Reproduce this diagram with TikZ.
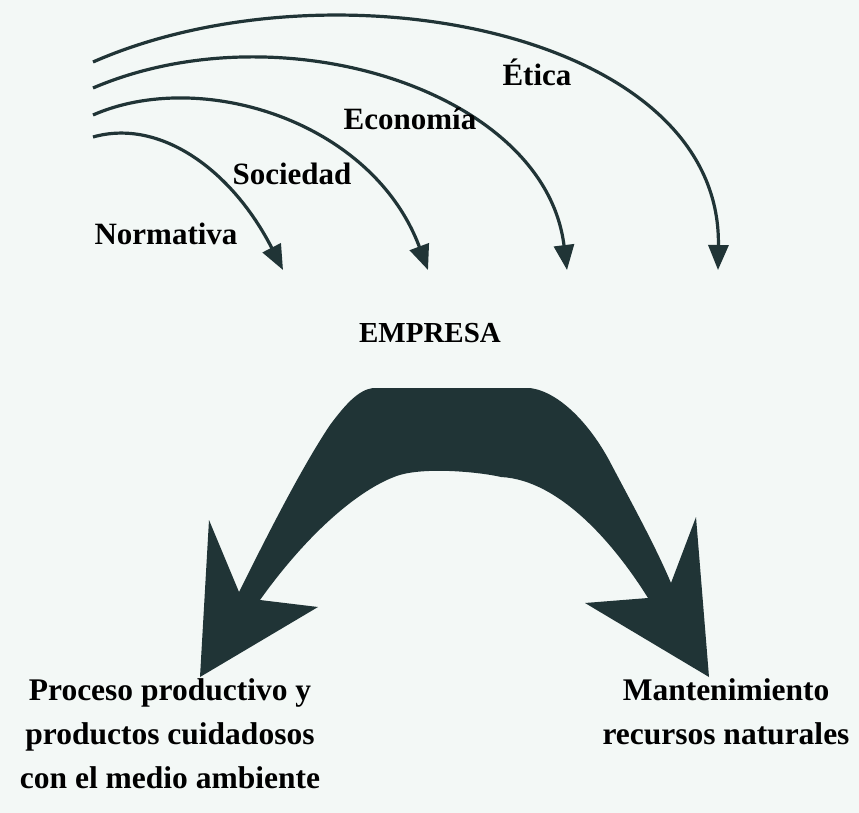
\documentclass[tikz,border=0pt]{standalone}
\usepackage{fontspec}
\setmainfont{Liberation Serif}
\usetikzlibrary{arrows.meta}
\definecolor{ink}{RGB}{32,52,54}
\definecolor{paper}{RGB}{243,248,246}
\tikzset{
  flow/.style={draw=ink, line width=3.2pt, -{Triangle[length=25pt,width=20pt]}},
  lbl/.style={font=\fontsize{31}{32}\selectfont\bfseries, text=black, inner sep=0pt, anchor=base},
  blk/.style={font=\fontsize{31.5}{44}\selectfont\bfseries, text=black, inner sep=0pt, align=center},
}
\begin{document}
\begin{tikzpicture}[x=1pt,y=-1pt]
\fill[paper] (0,0) rectangle (859,813);
\useasboundingbox (0,0) rectangle (859,813);
% start coordinates
\coordinate (s1) at (93,137);
\coordinate (s2) at (93,115);
\coordinate (s3) at (93,88);
\coordinate (s4) at (93,62);
\coordinate (t1) at (283,270);
\coordinate (t2) at (428,270);
\coordinate (t3) at (567,270);
\coordinate (t4) at (718,270);
\draw[flow] (s1) .. controls (160,118) and (232,170) .. (t1);
\draw[flow] (s2) .. controls (200,68) and (372,120) .. (t2);
\draw[flow] (s3) .. controls (280,8) and (545,90) .. (t3);
\draw[flow] (s4) .. controls (330,-42) and (722,30) .. (t4);
\node[lbl] (etica) at (537,86) {Ética};
\node[lbl] (econ) at (410,130) {Economía};
\node[lbl] (soc) at (292,185) {Sociedad};
\node[lbl] (norm) at (166,244) {Normativa};
\node[lbl, font=\fontsize{29}{30}\selectfont\bfseries] (emp) at (430,342) {EMPRESA};
% big double arrow
\fill[ink] (373,388) -- (530,388)
  .. controls (560,392) and (590,425) .. (609,460)
  .. controls (630,500) and (655,545) .. (671,583)
  -- (696,517) -- (709,677) -- (585,603) -- (648,598)
  .. controls (615,545) and (560,480) .. (501,477)
  .. controls (480,472) and (420,466) .. (394,477)
  .. controls (360,490) and (310,530) .. (260,600)
  -- (318,607) -- (200,677) -- (209,520) -- (239,592)
  .. controls (265,540) and (300,470) .. (330,425)
  .. controls (345,405) and (358,390) .. (373,388) -- cycle;
\node[blk] (left) at (170,734) {Proceso productivo y\\productos cuidadosos\\con el medio ambiente};
\node[blk] (right) at (726,712) {Mantenimiento\\recursos naturales};
\end{tikzpicture}
\end{document}
